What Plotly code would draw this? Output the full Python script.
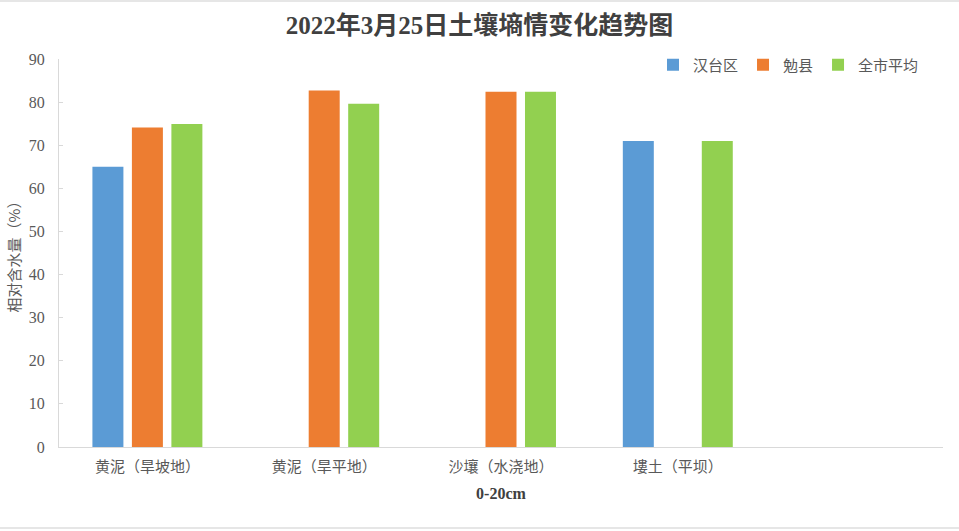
import plotly.graph_objects as go

categories = ["黄泥（旱坡地）", "黄泥（旱平地）", "沙壤（水浇地）", "塿土（平坝）"]
series_names = ["汉台区", "勉县", "全市平均"]
hantai = [65.0, None, None, 71.0]
mianxian = [74.1, 82.7, 82.4, None]
quanshi = [74.9, 79.6, 82.4, 71.0]
colors = ["#5B9BD5", "#ED7D31", "#92D050"]
y_ticks = [0, 10, 20, 30, 40, 50, 60, 70, 80, 90]

fig = go.Figure()
for name, vals, col in zip(series_names, [hantai, mianxian, quanshi], colors):
    fig.add_trace(go.Bar(name=name, x=categories, y=vals, marker_color=col,
                         marker_line_width=0))

TXT = "#595959"
fig.update_layout(
    width=959, height=531,
    margin=dict(l=59, r=16, t=59, b=84),
    paper_bgcolor="white", plot_bgcolor="white",
    barmode="group", bargap=0.33, bargroupgap=0.215,
    title=dict(text="<b>2022年3月25日土壤墒情变化趋势图</b>",
               x=0.5, xanchor="center", xref="container", y=1 - 25 / 531, yanchor="middle",
               font=dict(family="Liberation Serif, Noto Sans CJK SC", size=25, color="#404040")),
    legend=dict(orientation="h", x=(924 - 59) / 884, xanchor="right", y=(447 - 65) / 388, yanchor="middle",
                font=dict(family="Noto Sans CJK SC", size=15, color=TXT),
                itemwidth=30, traceorder="normal", bgcolor="rgba(0,0,0,0)"),
    xaxis=dict(range=[-0.5, 4.5], showline=True, linecolor="#d9d9d9", linewidth=1,
               showgrid=False, ticks="", zeroline=False,
               tickfont=dict(family="Noto Sans CJK SC", size=15, color=TXT),
               ticklabelstandoff=6,
               title=dict(text="<b>0-20cm</b>", standoff=12,
                          font=dict(family="Liberation Serif", size=16, color="#404040"))),
    yaxis=dict(range=[0, 90], tickvals=y_ticks, showline=True, linecolor="#d9d9d9", linewidth=1,
               showgrid=False, zeroline=False, ticks="inside", ticklen=4, tickcolor="#d9d9d9",
               tickfont=dict(family="Liberation Serif", size=16, color=TXT),
               ticklabelstandoff=10,
               title=dict(text="相对含水量（%）", standoff=4,
                          font=dict(family="Noto Sans CJK SC", size=15, color=TXT))),
    shapes=[
        dict(type="line", xref="paper", yref="paper", x0=-59 / 884, x1=(959 - 59) / 884,
             y0=(447 - 1) / 388, y1=(447 - 1) / 388, line=dict(color="#e6e6e6", width=2)),
        dict(type="line", xref="paper", yref="paper", x0=-59 / 884, x1=(959 - 59) / 884,
             y0=(447 - 528) / 388, y1=(447 - 528) / 388, line=dict(color="#e6e6e6", width=2)),
    ],
)

fig.write_html("out.html", config={"displayModeBar": False},
               post_script="document.body.style.margin='0';")
